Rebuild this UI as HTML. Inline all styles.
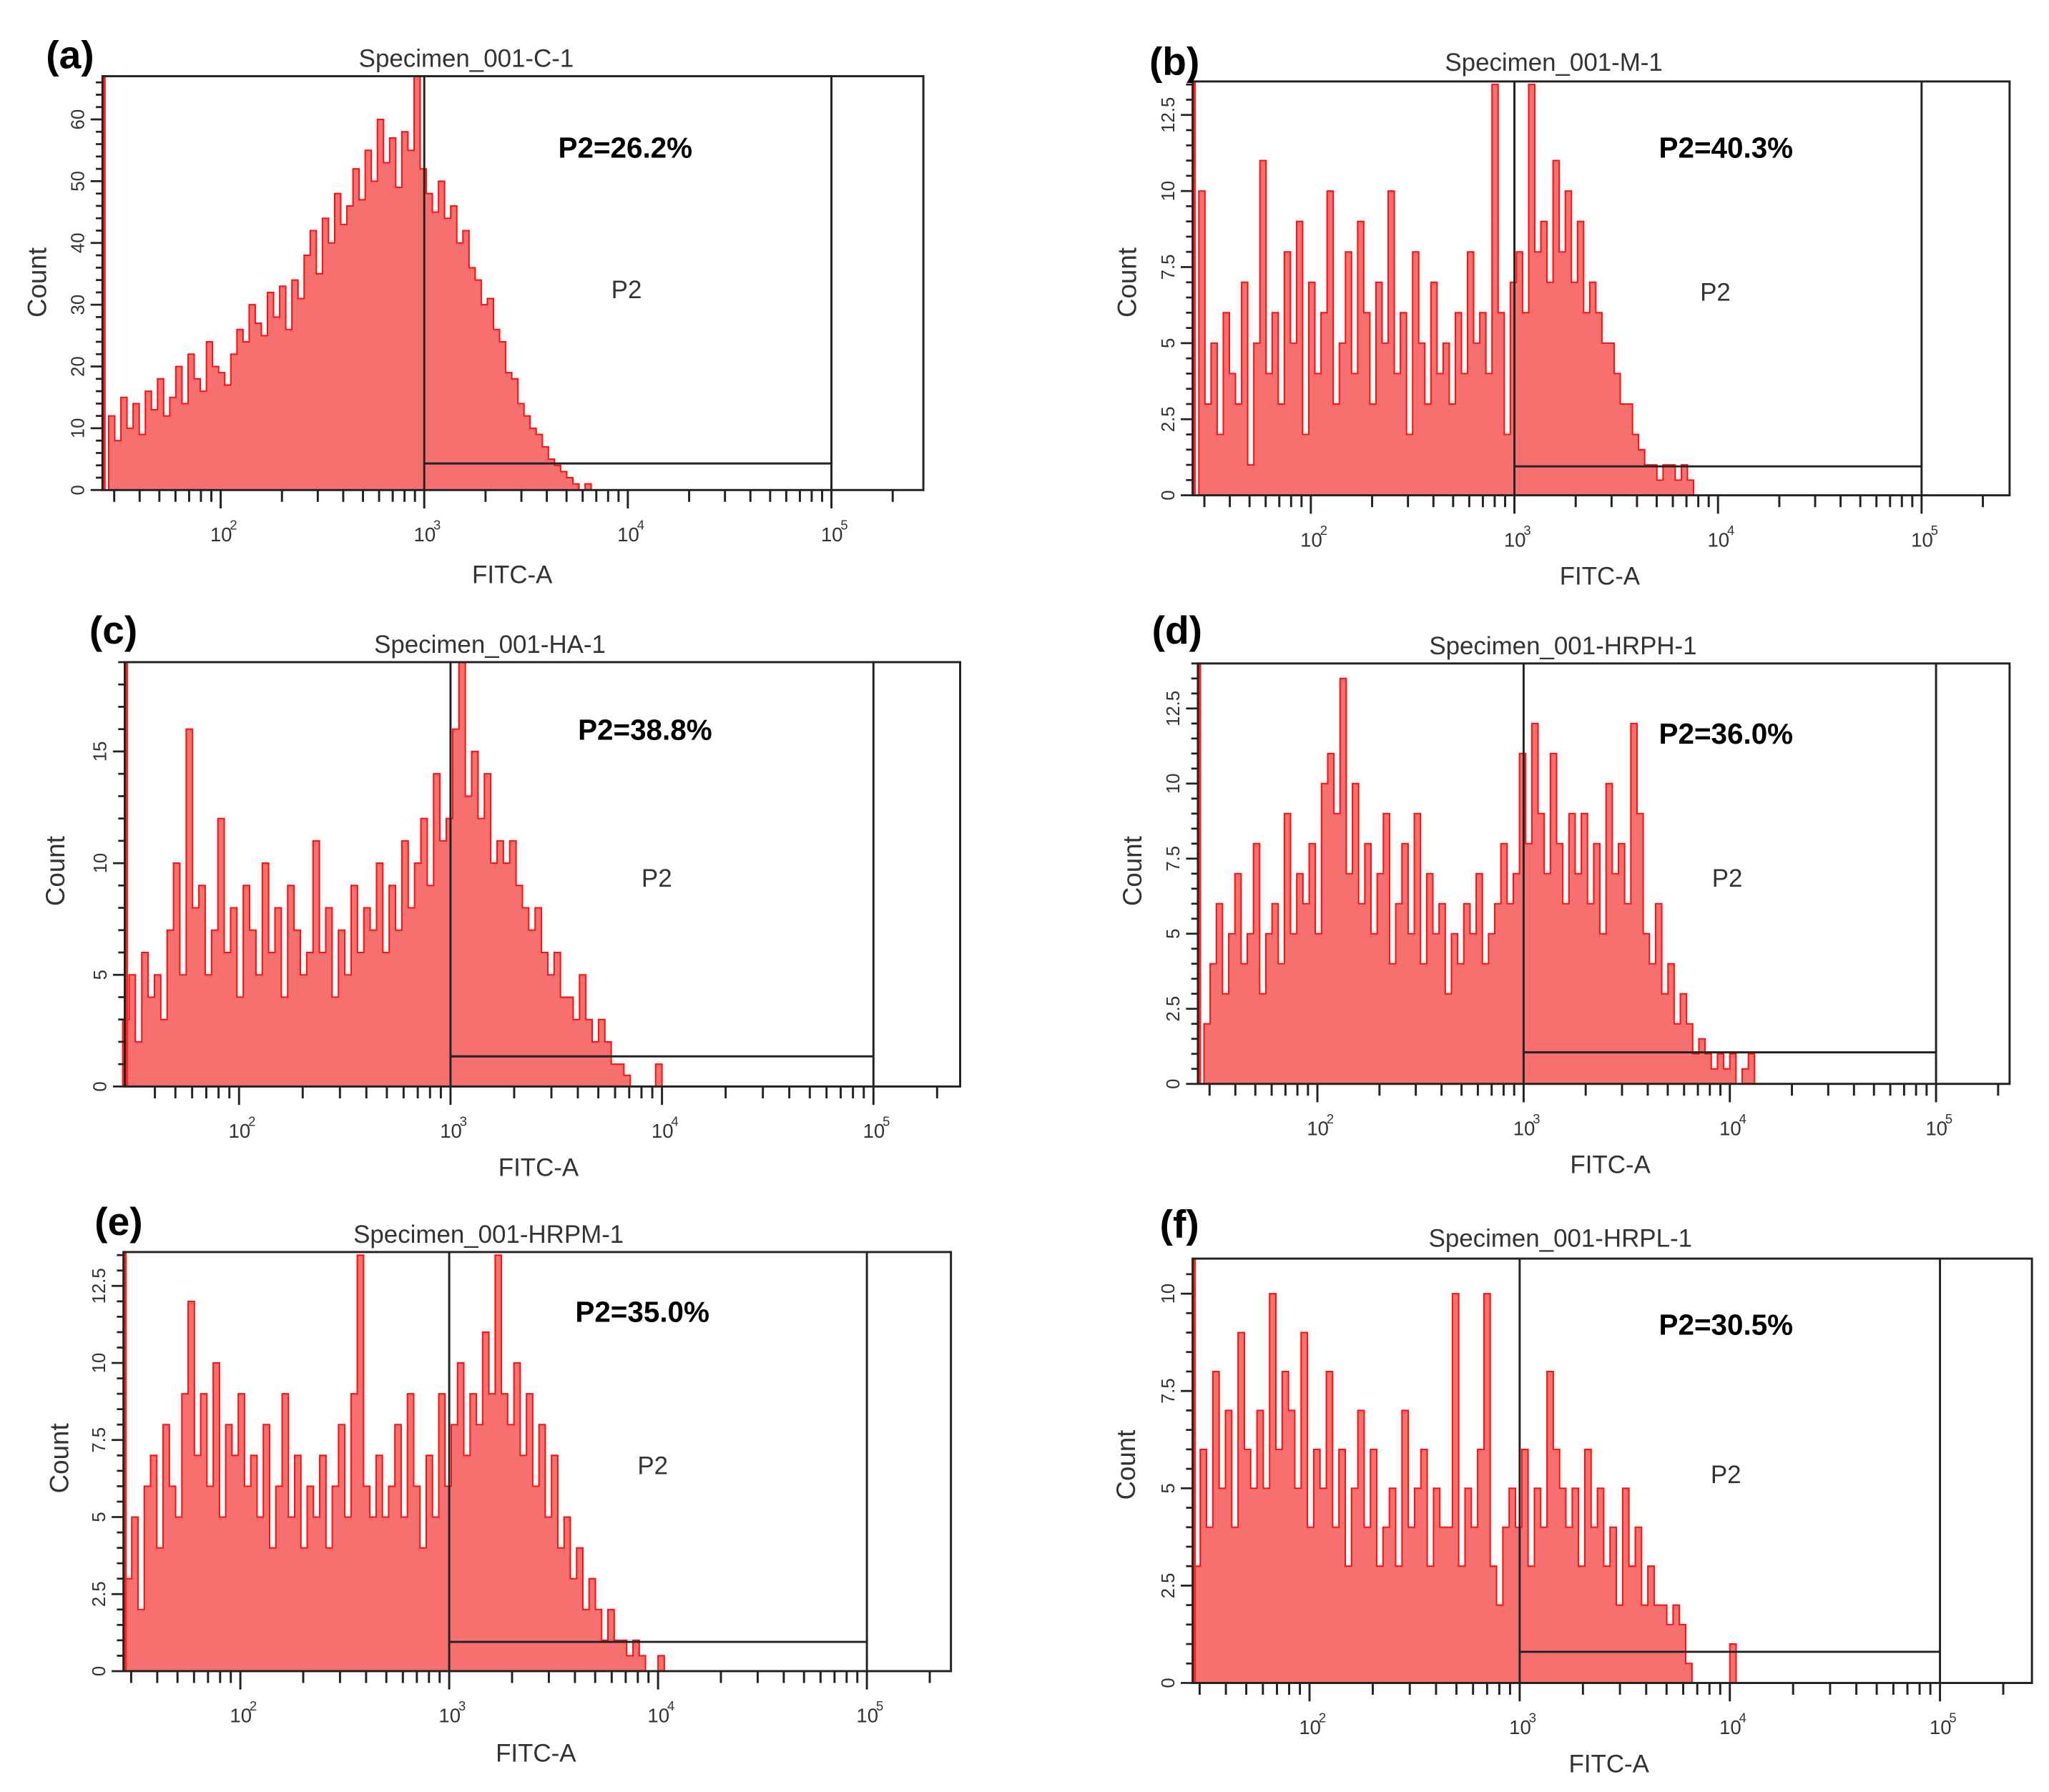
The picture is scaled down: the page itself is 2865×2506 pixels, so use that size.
<!DOCTYPE html>
<html><head><meta charset="utf-8"><style>
html,body{margin:0;padding:0;background:#fff;}
svg{display:block;}
text{font-family:"Liberation Sans",Arial,sans-serif;}
</style></head>
<body>
<svg id="fig" xmlns="http://www.w3.org/2000/svg" width="2865" height="2506" viewBox="0 0 1560 1364" preserveAspectRatio="none"></svg>
<script>
const binStart = 1.45;
const binWidth = 0.03;
const panelIds = ['a','b','c','d','e','f'];
const panelTitles = ['Specimen_001-C-1','Specimen_001-M-1','Specimen_001-HA-1','Specimen_001-HRPH-1','Specimen_001-HRPM-1','Specimen_001-HRPL-1'];
const gateLabels = ['P2=26.2%','P2=40.3%','P2=38.8%','P2=36.0%','P2=35.0%','P2=30.5%'];
const yTicksA = [0,10,20,30,40,50,60];
const yTicksB = [0,2.5,5,7.5,10,12.5];
const yTicksC = [0,5,10,15];
const yTicksF = [0,2.5,5,7.5,10];
const yMaxes = [67,13.6,19,14,13.6,10.9];
const gateLevels = [4.3,0.95,1.35,1.05,0.95,0.8];
const countsA = [12,8,15,10,14,9,16,13,18,12, 15,20,14,22,18,16,24,20,19,17, 22,26,24,30,27,25,32,28,33,26, 34,31,38,42,35,44,40,48,43,46, 52,47,55,50,60,53,57,49,58,55, 67,52,48,45,50,44,46,40,42,36, 34,30,31,26,24,19,18,14,12,10, 9,7,5,4,3,2,1,0,1,0, 0,0,0,0,0,0,0,0,0,0];
const countsB = [10,3,5,2,6,4,3,7,1,5, 11,4,6,3,8,5,9,2,7,4, 6,10,3,5,8,4,9,6,3,7, 5,10,4,6,2,8,5,3,7,4, 5,3,6,4,8,5,6,4,13.5,6, 2,7,8,6,13.5,8,9,7,11,8, 10,7,9,6,7,6,5,5,4,3, 3,2,1.5,1,1,0.5,1,1,0.5,1, 0.5,0,0,0,0,0,0,0,0,0];
const countsC = [3,5,2,6,4,5,3,7,10,5, 16,8,9,5,7,12,6,8,4,9, 7,5,10,6,8,4,9,7,5,6, 11,6,8,4,7,5,9,6,8,7, 10,6,9,7,11,8,10,12,9,14, 11,12,16,19,13,15,12,14,10,11, 10,11,9,8,7,8,6,5,6,4, 4,3,5,3,2,3,2,1,1,0.5, 0,0,0,0,1,0,0,0,0,0];
const countsD = [2,4,6,3,5,7,4,5,8,3, 5,6,4,9,5,7,6,8,5,10, 11,9,13.5,7,10,6,8,5,7,9, 4,6,8,5,9,4,7,5,6,3, 5,4,6,5,7,4,5,6,8,6, 7,11,8,12,9,7,11,8,6,9, 7,9,6,8,5,10,7,8,6,12, 9,5,4,6,3,4,2,3,2,1, 1.5,1,0.5,1,0.5,1,0,0.5,1,0];
const countsE = [3,5,2,6,7,4,8,6,5,9, 12,7,9,6,10,5,8,7,9,6, 7,5,8,4,6,9,5,7,4,6, 5,7,4,6,8,5,9,13.5,6,5, 7,5,6,8,5,9,6,4,7,5, 9,6,8,10,7,9,8,11,9,13.5, 9,8,10,7,9,6,8,5,7,4, 5,3,4,2,3,2,1,2,1,1, 0.5,1,0.5,0,0,0.5,0,0,0,0];
const countsF = [3,6,4,8,5,7,4,9,6,5, 7,5,10,6,8,7,5,9,4,6, 5,8,4,6,3,5,7,4,6,3, 4,5,3,7,4,5,6,3,5,4, 4,10,3,5,4,6,10,3,2,4, 5,4,6,3,5,4,8,6,5,4, 5,3,6,4,5,3,4,2,5,3, 4,2,3,2,2,1.5,2,1.5,0.5,0, 0,0,0,0,0,1,0,0,0,0];

const allCounts=[countsA,countsB,countsC,countsD,countsE,countsF];
const allYTicks=[yTicksA,yTicksB,yTicksC,yTicksB,yTicksB,yTicksF];
// layout (display coords)
const L=[
 {x0:78,x1:703,y0:58,y1:373,d2:168,d3:323,lab:[35,40],tx:355,ty:45,p2x:425,p2y:112,p2lx:477,p2ly:220,cx:28,cy:215,fx:390,fy:437},
 {x0:908,x1:1530,y0:62,y1:377,d2:998,d3:1153,lab:[875,45],tx:1183,ty:48,p2x:1263,p2y:112,p2lx:1306,p2ly:222,cx:858,cy:215,fx:1218,fy:438},
 {x0:95,x1:731,y0:504,y1:827,d2:182,d3:343,lab:[68,478],tx:373,ty:491,p2x:440,p2y:555,p2lx:500,p2ly:668,cx:42,cy:663,fx:410,fy:888},
 {x0:912,x1:1530,y0:505,y1:825,d2:1003,d3:1160,lab:[877,478],tx:1190,ty:492,p2x:1263,p2y:558,p2lx:1315,p2ly:668,cx:862,cy:663,fx:1226,fy:886},
 {x0:94,x1:724,y0:953,y1:1272,d2:183,d3:342,lab:[72,928],tx:372,ty:940,p2x:438,p2y:998,p2lx:497,p2ly:1115,cx:45,cy:1110,fx:408,fy:1334},
 {x0:908,x1:1547,y0:958,y1:1281,d2:997,d3:1157,lab:[883,930],tx:1188,ty:943,p2x:1263,p2y:1008,p2lx:1314,p2ly:1122,cx:857,cy:1115,fx:1225,fy:1342}
];
const NS='http://www.w3.org/2000/svg';
const svg=document.getElementById('fig');
function mk(tag,attrs,parent){const e=document.createElementNS(NS,tag);for(const k in attrs)e.setAttribute(k,attrs[k]);(parent||svg).appendChild(e);return e;}

panelIds.forEach((id,p)=>{
  const c=L[p];
  const dec=c.d3-c.d2;
  const xs=lg=>c.d2+(lg-2)*dec;
  const ys=v=>c.y1-v/yMaxes[p]*(c.y1-c.y0);
  const g=mk('g',{});
  
  
  // histogram
  const counts=allCounts[p];
  let dpath='M'+xs(binStart)+','+c.y1;
  counts.forEach((v,i)=>{
    const a=xs(binStart+binWidth*i), b=xs(binStart+binWidth*(i+1));
    const y=ys(Math.min(v,yMaxes[p]));
    dpath+=' L'+a.toFixed(2)+','+y.toFixed(2)+' L'+b.toFixed(2)+','+y.toFixed(2);
  });
  dpath+=' L'+xs(binStart+binWidth*counts.length)+','+c.y1+' Z';
  const h=mk('path',{d:dpath,fill:'#f77070',stroke:'#ff1010','stroke-width':1.1,'stroke-linejoin':'miter'},g);
  
  
  // left edge red line
  const el=mk('line',{x1:c.x0+1.5,y1:c.y0,x2:c.x0+1.5,y2:c.y1,stroke:'#ff2020','stroke-width':2},g);
  
  
  // frame
  const fr=mk('rect',{x:c.x0,y:c.y0,width:c.x1-c.x0,height:c.y1-c.y0,fill:'none',stroke:'#222','stroke-width':1.6},g);
  
  
  // gate
  const gx1=xs(3),gx2=xs(5),gy=ys(gateLevels[p]);
  const gp=mk('path',{d:`M${gx1},${c.y0} L${gx1},${c.y1} M${gx1},${gy} L${gx2},${gy} M${gx2},${c.y0} L${gx2},${c.y1}`,fill:'none',stroke:'#222','stroke-width':1.6},g);
  
  
  // x ticks
  for(let d=1;d<=5;d++){for(let m=1;m<=9;m++){
    const lg=d+Math.log10(m); const x=xs(lg);
    if(x<c.x0+4||x>c.x1-4)continue;
    const len=(m===1)?14:9;
    mk('line',{x1:x,y1:c.y1,x2:x,y2:c.y1+len,stroke:'#222','stroke-width':1.6},g);
  }}
  [2,3,4,5].forEach(d=>{
    const x=xs(d);
    const t=mk('text',{x:x-8,y:c.y1+39,'font-size':15,fill:'#333'},g);
    t.textContent='10';
    
    
    const s=mk('text',{x:x+7,y:c.y1+30,'font-size':10,fill:'#333'},g);
    s.textContent=String(d);
  });
  // y ticks
  const yt=allYTicks[p]; const step=yt[1]-yt[0];
  for(let v=0;v<=yMaxes[p]+1e-9;v+=step/5){
    const y=ys(v); const major=Math.abs(v/step-Math.round(v/step))<1e-6;
    mk('line',{x1:c.x0-(major?9:5),y1:y,x2:c.x0,y2:y,stroke:'#222','stroke-width':1.5},g);
  }
  yt.forEach(v=>{
    const y=ys(v);
    const t=mk('text',{x:c.x0-14,y:y,'font-size':14,fill:'#333','text-anchor':'middle',transform:`rotate(-90 ${c.x0-14} ${y})`},g);
    t.textContent=String(v);
    
    
  });
  // labels
  const pl=mk('text',{x:c.lab[0],y:c.lab[1]+12,'font-size':30,'font-weight':'bold',fill:'#000'},g);
  pl.textContent='('+id+')';
  
  
  const tt=mk('text',{x:c.tx,y:c.ty+6,'font-size':19,fill:'#333','text-anchor':'middle'},g);
  tt.textContent=panelTitles[p];
  
  
  const pv=mk('text',{x:c.p2x,y:c.p2y+8,'font-size':22,'font-weight':'bold',fill:'#000'},g);
  pv.textContent=gateLabels[p];
  
  
  const gl=mk('text',{x:c.p2lx,y:c.p2ly+7,'font-size':19,fill:'#333','text-anchor':'middle'},g);
  gl.textContent='P2';
  
  
  const cl=mk('text',{x:c.cx,y:c.cy,'font-size':20,fill:'#333','text-anchor':'middle',transform:`rotate(-90 ${c.cx+7} ${c.cy})`},g);
  cl.setAttribute('x',c.cx+7);
  cl.textContent='Count';
  
  
  const fl=mk('text',{x:c.fx,y:c.fy+7,'font-size':19,fill:'#333','text-anchor':'middle'},g);
  fl.textContent='FITC-A';
  
  
});
</script>
</body></html>
